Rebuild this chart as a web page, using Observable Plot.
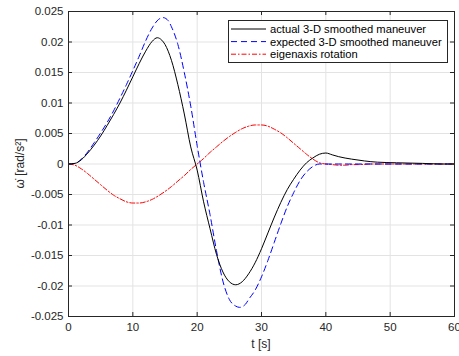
<!DOCTYPE html>
<html>
<head>
<meta charset="utf-8">
<script src="https://cdn.jsdelivr.net/npm/d3@7"></script>
<script src="https://cdn.jsdelivr.net/npm/@observablehq/plot@0.6"></script>
<style>
  body { margin: 0; background: #fff; }
  #chart { position: relative; width: 459px; height: 356px; }
  svg { font-family: "Liberation Sans", Arial, sans-serif; }
</style>
</head>
<body>
<div id="chart"></div>
<script>
// time [s] and angular acceleration [rad/s^2]
const actualT = [0,1,2,3,4,5,6,7,8,9,10,11,12,13,13.8,14.5,15,16,17,18,19,20,21,22,23,24,25,26,27,28,29,30,31,32,33,34,35,36,37,38,39,40,41,42,44,46,48,51,55,58,60];
const actualV = [0,0.0001,0.0007,0.0018,0.0031,0.0046,0.0063,0.0081,0.0100,0.0121,0.0143,0.0165,0.0185,0.0201,0.0207,0.0203,0.0196,0.0170,0.0130,0.0082,0.0028,-0.0010,-0.0062,-0.0106,-0.0148,-0.0177,-0.0193,-0.0198,-0.0193,-0.0180,-0.0162,-0.0139,-0.0113,-0.0087,-0.0063,-0.0042,-0.0025,-0.0010,0.0002,0.0010,0.0016,0.0018,0.0015,0.0012,0.0008,0.0005,0.0003,0.0002,0.0001,0,0];

const expectedT = [0,1,2,3,4,5,6,7,8,9,10,11,12,13,14,14.7,15.5,16,17,18,19,20,21,22,23,24,25,26,26.6,27.5,28,29,30,31,32,33,34,35,36,37,38,39,60];
const expectedV = [0,0.0001,0.0008,0.0020,0.0035,0.0051,0.0068,0.0087,0.0108,0.0130,0.0153,0.0177,0.0202,0.0223,0.0237,0.0240,0.0235,0.0225,0.0196,0.0150,0.0095,0.0030,-0.0030,-0.0083,-0.0142,-0.0192,-0.0222,-0.0233,-0.0235,-0.0230,-0.0222,-0.0207,-0.0185,-0.0158,-0.0128,-0.0098,-0.0070,-0.0047,-0.0027,-0.0013,-0.0004,0,0];

const eigenT = [0,1,2,3,4,5,6,7,8,9,10,11,12,13,14,15,16,17,18,19,20,21,22,23,24,25,26,27,28,29,30,31,32,33,34,35,36,37,38,39,40,41,42,43,44,45,47,60];
const eigenV = [0,-0.0002,-0.0008,-0.0016,-0.0025,-0.0034,-0.0043,-0.0051,-0.0057,-0.0062,-0.0064,-0.0064,-0.0062,-0.0058,-0.0052,-0.0045,-0.0037,-0.0028,-0.0019,-0.0009,0,0.0009,0.0019,0.0028,0.0037,0.0045,0.0052,0.0058,0.0062,0.0064,0.0064,0.0062,0.0057,0.0051,0.0043,0.0034,0.0025,0.0016,0.0008,0.0002,0,-0.0001,-0.0002,-0.0002,-0.0001,-0.0001,0,0];

const seriesNames = ["actual 3-D smoothed maneuver", "expected 3-D smoothed maneuver", "eigenaxis rotation"];
const xTicks = [0,10,20,30,40,50,60];
const yTicks = [-0.025,-0.02,-0.015,-0.01,-0.005,0,0.005,0.01,0.015,0.02,0.025];
const xLabel = "t [s]";
const yLabel = "ω̇ [rad/s²]";

const toRows = (T, V) => T.map((t, i) => ({t, v: V[i]}));
const actual = toRows(actualT, actualV);
const expected = toRows(expectedT, expectedV);
const eigen = toRows(eigenT, eigenV);

const ink = "#262626";
const gridC = "#e3e3e3";
const W = 459, H = 356, mL = 68, mR = 5, mT = 11, mB = 40;
const plotH = H - mT - mB;

const chart = Plot.plot({
  width: W, height: H,
  marginLeft: mL, marginRight: mR, marginTop: mT, marginBottom: mB,
  style: {fontFamily: "'Liberation Sans', Arial, sans-serif", fontSize: "11.5px", color: ink, background: "#fff"},
  x: {domain: [0, 60]},
  y: {domain: [-0.025, 0.025]},
  marks: [
    Plot.ruleX(xTicks, {stroke: gridC, strokeWidth: 1}),
    Plot.ruleY(yTicks, {stroke: gridC, strokeWidth: 1}),
    Plot.line(eigen, {x: "t", y: "v", stroke: "#ff0000", strokeWidth: 1, strokeDasharray: "5,2,1.5,2", curve: "monotone-x"}),
    Plot.line(expected, {x: "t", y: "v", stroke: "#0000ff", strokeWidth: 1, strokeDasharray: "6,4", curve: "monotone-x"}),
    Plot.line(actual, {x: "t", y: "v", stroke: "#000000", strokeWidth: 1, curve: "monotone-x"}),
    Plot.tickX(xTicks, {x: d => d, stroke: ink, insetTop: plotH - 4}),
    Plot.tickX(xTicks, {x: d => d, stroke: ink, insetBottom: plotH - 4}),
    Plot.tickY(yTicks, {y: d => d, stroke: ink, insetRight: (W - mL - mR) - 4}),
    Plot.tickY(yTicks, {y: d => d, stroke: ink, insetLeft: (W - mL - mR) - 4}),
    Plot.frame({stroke: ink, strokeWidth: 1}),
    Plot.axisX(xTicks, {tickSize: 0, tickPadding: 6, label: null, fill: ink, fontSize: 11.5}),
    Plot.axisY(yTicks, {tickSize: 0, tickPadding: 5, label: null, fill: ink, fontSize: 11.5,
      tickFormat: d => String(+d.toFixed(3))})
  ]
});

const svg = d3.select(chart);
// axis titles
svg.append("text").attr("x", mL + (W - mL - mR) / 2).attr("y", 348)
  .attr("text-anchor", "middle").attr("fill", ink).attr("font-size", 12).text(xLabel);
svg.append("text").attr("transform", `translate(24,${mT + plotH / 2}) rotate(-90)`)
  .attr("text-anchor", "middle").attr("fill", ink).attr("font-size", 12).text(yLabel);

// legend
const lg = svg.append("g");
lg.append("rect").attr("x", 228.5).attr("y", 20.5).attr("width", 219).attr("height", 42)
  .attr("fill", "#fff").attr("stroke", ink).attr("stroke-width", 1);
const styles = [
  {stroke: "#000", dash: null},
  {stroke: "#0000ff", dash: "6,4"},
  {stroke: "#ff0000", dash: "5,2,1.5,2"}
];
seriesNames.forEach((name, i) => {
  const y = 29 + i * 12.6;
  lg.append("line").attr("x1", 231).attr("x2", 266).attr("y1", y).attr("y2", y)
    .attr("stroke", styles[i].stroke).attr("stroke-width", 1)
    .attr("stroke-dasharray", styles[i].dash);
  lg.append("text").attr("x", 270).attr("y", y).attr("dy", "0.35em")
    .attr("text-anchor", "start")
    .attr("fill", "#000").attr("font-size", 11.2).text(name);
});

document.getElementById("chart").appendChild(chart);
</script>
</body>
</html>
